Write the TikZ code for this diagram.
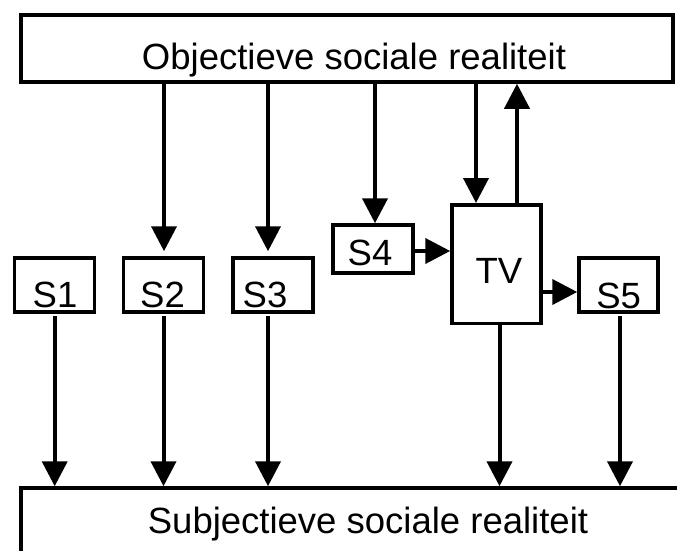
\documentclass[tikz,border=0pt]{standalone}
\usepackage{fontspec}
\setmainfont{Liberation Sans}
\usetikzlibrary{arrows.meta}
\begin{document}
\begin{tikzpicture}[x=1pt,y=-1pt,
  box/.style={draw, line width=3.5pt, inner sep=0pt, rectangle},
  arr/.style={line width=4pt, -{Triangle[length=25pt,width=25pt]}},
  lbl/.style={font=\fontsize{36.5}{44}\selectfont, inner sep=0pt, anchor=base}]
\useasboundingbox (0,0) rectangle (677,551);
\begin{scope}
\clip (0,0) rectangle (677,551);
% boxes
\node[box, minimum width=652pt, minimum height=67pt] (top) at (347,48.5) {};
\node[box, minimum width=699pt, minimum height=92pt] (bot) at (370.5,534) {};
\node[box, minimum width=80pt, minimum height=54pt] (S1) at (54.7,285) {};
\node[box, minimum width=80pt, minimum height=54pt] (S2) at (163.5,285) {};
\node[box, minimum width=80pt, minimum height=54pt] (S3) at (273,285) {};
\node[box, minimum width=80pt, minimum height=48pt] (S4) at (373,249) {};
\node[box, minimum width=89pt, minimum height=118.5pt] (TV) at (496.5,264) {};
\node[box, minimum width=79pt, minimum height=54pt] (S5) at (618.5,285) {};
% texts
\node[lbl] (ttop) at (354,70) {Objectieve sociale realiteit};
\node[lbl] (tbot) at (368,533) {Subjectieve sociale realiteit};
\node[lbl] (tS1) at (55,307) {S1};
\node[lbl] (tS2) at (162.5,307) {S2};
\node[lbl] (tS3) at (265,307) {S3};
\node[lbl] (tS4) at (370,265) {S4};
\node[lbl] (tTV) at (499,283) {TV};
\node[lbl] (tS5) at (618.7,308) {S5};
% arrows from top
\coordinate (a2) at ([xshift=0.5pt]S2.north);
\coordinate (a3) at ([xshift=-5pt]S3.north);
\coordinate (a4) at ([xshift=2pt]S4.north);
\coordinate (aTVin) at ([xshift=-20.5pt]TV.north);
\coordinate (aTVout) at ([xshift=20.5pt]TV.north);
\draw[arr, shorten >=5pt] (top.south -| a2) -- (a2);
\draw[arr, shorten >=5pt] (top.south -| a3) -- (a3);
\draw[arr] (top.south -| a4) -- (a4);
\draw[arr] (top.south -| aTVin) -- (aTVin);
\draw[arr] (aTVout) -- (top.south -| aTVout);
% side arrows
\coordinate (s4e) at ([yshift=-2pt]S4.east);
\draw[arr] (s4e) -- (s4e -| TV.west);
\coordinate (tve) at ([yshift=-7pt]TV.east |- S5.center);
\draw[arr] (tve) -- (tve -| S5.west);
% arrows to bottom
\coordinate (b1) at ([yshift=-2pt]S1.south);
\coordinate (b2) at ([yshift=-2pt]S2.south);
\coordinate (b3) at ([xshift=-5pt,yshift=-2pt]S3.south);
\coordinate (bTV) at ([xshift=3pt]TV.south);
\coordinate (b5) at ([xshift=1.5pt,yshift=-2pt]S5.south);
\draw[arr] (b1) -- (b1 |- bot.north);
\draw[arr] (b2) -- (b2 |- bot.north);
\draw[arr] (b3) -- (b3 |- bot.north);
\draw[arr] (bTV) -- (bTV |- bot.north);
\draw[arr] (b5) -- (b5 |- bot.north);
\end{scope}
\end{tikzpicture}
\end{document}
